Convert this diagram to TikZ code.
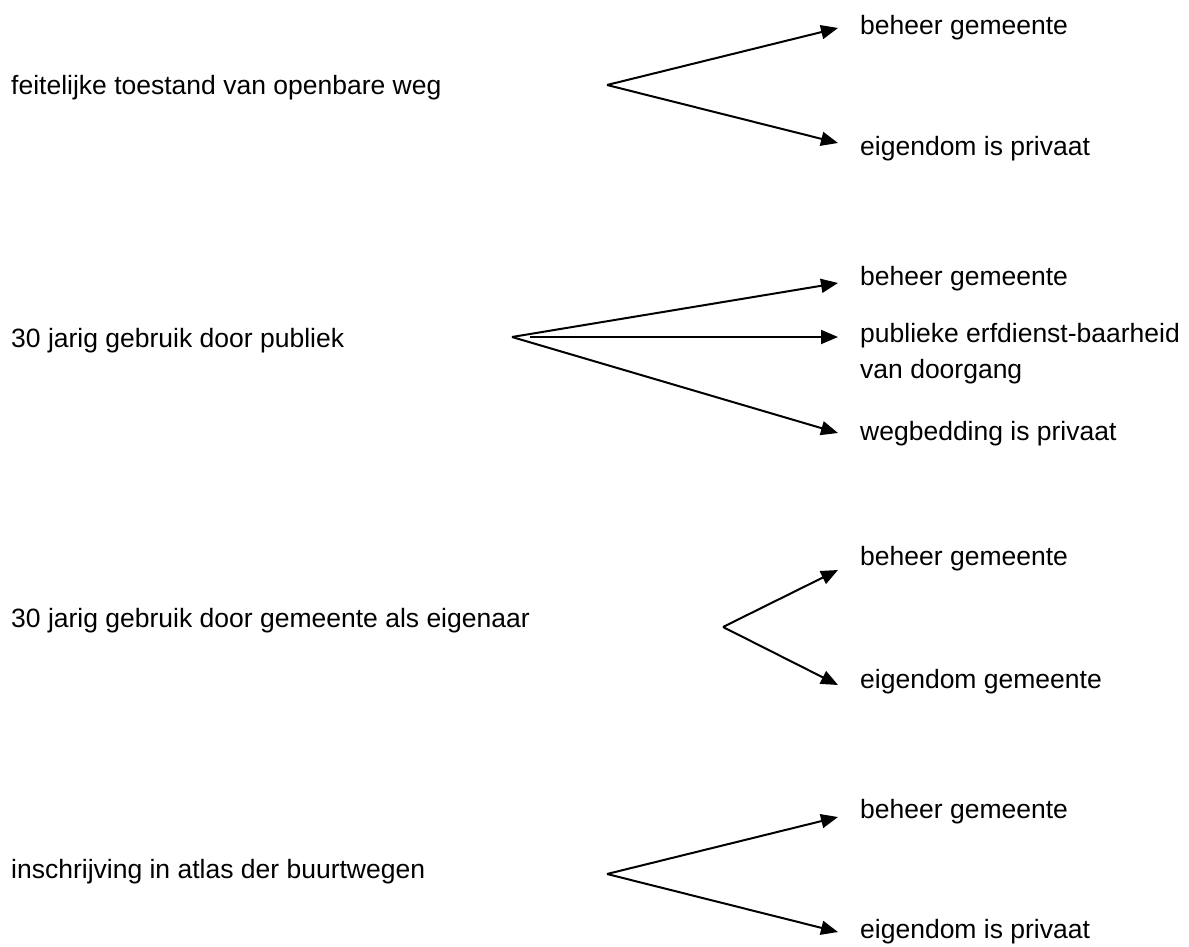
\documentclass[tikz,border=0pt]{standalone}
\usepackage{fontspec}
\setmainfont{Liberation Sans}
\usetikzlibrary{arrows.meta}

\begin{document}
\begin{tikzpicture}[x=1pt,y=-1pt,
  txt/.style={anchor=base west,inner sep=0pt,font=\fontsize{26.5}{36}\selectfont,align=left},
  arr/.style={-{Triangle[length=17pt,width=14pt]},line width=2pt}]
  \useasboundingbox (0,0) rectangle (1189,947);
  % left column
  \node[txt] (src-1) at (11,95) {feitelijke toestand van openbare weg};
  \node[txt] (src-2) at (11,347) {30 jarig gebruik door publiek};
  \node[txt] (src-3) at (11,627) {30 jarig gebruik door gemeente als eigenaar};
  \node[txt] (src-4) at (11,878) {inschrijving in atlas der buurtwegen};
  % right column (base of a two-line text is its last line)
  \node[txt] (res-1a) at (860,35) {beheer gemeente};
  \node[txt] (res-1b) at (860,156) {eigendom is privaat};
  \node[txt] (res-2a) at (860,285) {beheer gemeente};
  \node[txt] (res-2b) at (860,378) {publieke erfdienst-baarheid\\van doorgang};
  \node[txt] (res-2c) at (860,440) {wegbedding is privaat};
  \node[txt] (res-3a) at (860,565) {beheer gemeente};
  \node[txt] (res-3b) at (860,688) {eigendom gemeente};
  \node[txt] (res-4a) at (860,818) {beheer gemeente};
  \node[txt] (res-4b) at (860,938) {eigendom is privaat};
  % split points and arrow tips
  \coordinate (split-1) at (607,85);
  \coordinate (split-2) at (512,337);
  \coordinate (split-2m) at (530,337);
  \coordinate (split-3) at (723,627);
  \coordinate (split-4) at (607,874);
  \coordinate (tip-1a) at (838,28);
  \coordinate (tip-1b) at (838,143);
  \coordinate (tip-2a) at (838,283);
  \coordinate (tip-2b) at (838,337);
  \coordinate (tip-2c) at (838,433);
  \coordinate (tip-3a) at (838,570);
  \coordinate (tip-3b) at (838,685);
  \coordinate (tip-4a) at (838,817);
  \coordinate (tip-4b) at (838,932);
  % arrows
  \foreach \t in {1a,1b} \draw[arr] (split-1) -- (tip-\t);
  \foreach \t in {2a,2c} \draw[arr] (split-2) -- (tip-\t);
  \draw[arr] (split-2m) -- (tip-2b);
  \foreach \t in {3a,3b} \draw[arr] (split-3) -- (tip-\t);
  \foreach \t in {4a,4b} \draw[arr] (split-4) -- (tip-\t);
\end{tikzpicture}
\end{document}
